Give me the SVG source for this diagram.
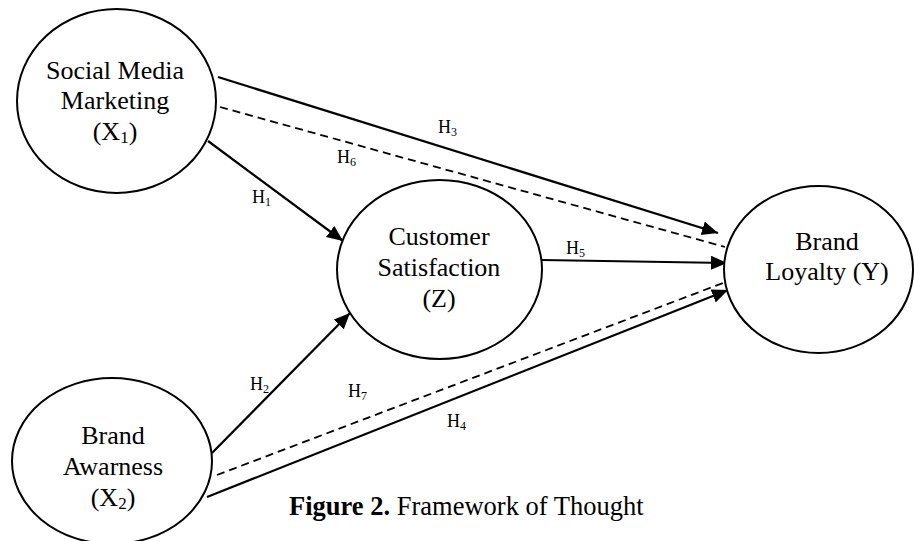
<svg xmlns="http://www.w3.org/2000/svg" width="914" height="541" viewBox="0 0 914 541">
<style>
.node ellipse{fill:#fff;stroke:#000;stroke-width:2}
.lbl{font-family:"Liberation Serif","Times New Roman",serif;font-size:26px;fill:#000;text-anchor:middle}
.h{font-family:"Liberation Serif","Times New Roman",serif;font-size:18px;fill:#000}
.solid{stroke:#000;stroke-width:2.2;fill:none}
.dash{stroke:#000;stroke-width:1.8;fill:none;stroke-dasharray:8 5}
.arrow{marker-end:url(#ah)}
.cap{font-family:"Liberation Serif","Times New Roman",serif;font-size:26.5px;fill:#000}
</style>
<defs>
<marker id="ah" markerUnits="userSpaceOnUse" markerWidth="18" markerHeight="15" refX="16" refY="7" orient="auto">
<path d="M0,0 L16,7 L0,14 z" fill="#000"/>
</marker>
</defs>
<rect width="914" height="541" fill="#fff"/>
<g id="connectors">
<line class="solid arrow" x1="218" y1="77" x2="718" y2="233"/>
<line class="dash" x1="220" y1="107" x2="725" y2="247"/>
<line class="solid arrow" x1="208" y1="141" x2="343" y2="241"/>
<line class="solid arrow" x1="212" y1="453" x2="350" y2="313"/>
<line class="dash" x1="217" y1="475" x2="723" y2="283"/>
<line class="solid arrow" x1="207" y1="497" x2="728" y2="290"/>
<line class="solid arrow" x1="542" y1="260" x2="727" y2="263"/>
</g>
<g id="node-x1" class="node">
<ellipse cx="116.5" cy="101" rx="99.5" ry="92"/>
<text class="lbl" x="115" y="79">Social Media</text>
<text class="lbl" x="115" y="109">Marketing</text>
<text class="lbl" x="115" y="140">(X<tspan font-size="17" dy="3">1</tspan><tspan dy="-3">)</tspan></text>
</g>
<g id="node-z" class="node">
<ellipse cx="439.5" cy="269.5" rx="102.5" ry="89.5"/>
<text class="lbl" x="439" y="245">Customer</text>
<text class="lbl" x="439" y="276">Satisfaction</text>
<text class="lbl" x="439" y="307">(Z)</text>
</g>
<g id="node-y" class="node">
<ellipse cx="818.5" cy="269.5" rx="94.5" ry="83.5"/>
<text class="lbl" x="827" y="250">Brand</text>
<text class="lbl" x="827" y="280">Loyalty (Y)</text>
</g>
<g id="node-x2" class="node">
<ellipse cx="112" cy="461" rx="100" ry="83"/>
<text class="lbl" x="113" y="444">Brand</text>
<text class="lbl" x="113" y="475">Awarness</text>
<text class="lbl" x="113" y="506">(X<tspan font-size="17" dy="3">2</tspan><tspan dy="-3">)</tspan></text>
</g>
<g id="labels">
<text class="h" x="438" y="133">H<tspan font-size="12" dy="3">3</tspan></text>
<text class="h" x="337" y="163">H<tspan font-size="12" dy="3">6</tspan></text>
<text class="h" x="252" y="203">H<tspan font-size="12" dy="3">1</tspan></text>
<text class="h" x="250" y="390">H<tspan font-size="12" dy="3">2</tspan></text>
<text class="h" x="348" y="397">H<tspan font-size="12" dy="3">7</tspan></text>
<text class="h" x="447" y="427">H<tspan font-size="12" dy="3">4</tspan></text>
<text class="h" x="566" y="254">H<tspan font-size="12" dy="3">5</tspan></text>
</g>
<text class="cap" x="289" y="515"><tspan font-weight="bold">Figure 2.</tspan> Framework of Thought</text>
</svg>
